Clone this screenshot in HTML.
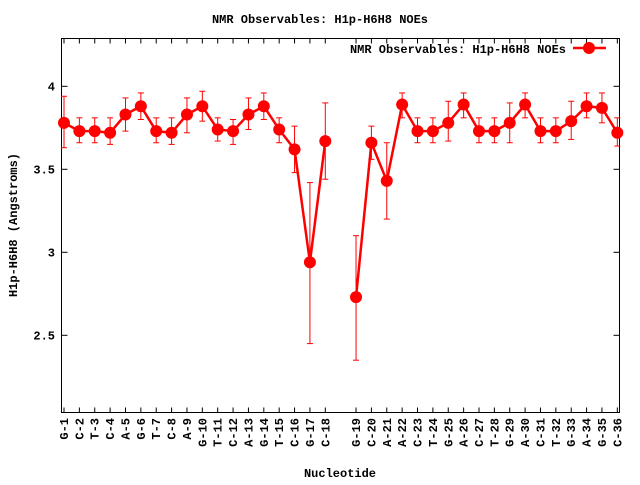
<!DOCTYPE html>
<html><head><meta charset="utf-8"><style>
html,body{margin:0;padding:0;background:#fff;}
svg text{font-family:"Liberation Mono",monospace;font-weight:bold;font-size:12px;fill:#000;}
</style></head><body>
<svg id="s" width="640" height="480" xmlns="http://www.w3.org/2000/svg"></svg>
<script>
var s=document.getElementById('s');
var labels=["G-1","C-2","T-3","C-4","A-5","G-6","T-7","C-8","A-9","G-10","T-11","C-12","A-13","G-14","T-15","C-16","G-17","C-18","G-19","C-20","A-21","A-22","C-23","T-24","G-25","A-26","C-27","T-28","G-29","A-30","C-31","T-32","G-33","A-34","G-35","C-36"];
var d=[[3.78,3.63,3.94],[3.73,3.66,3.81],[3.73,3.66,3.81],[3.72,3.65,3.81],[3.83,3.73,3.93],[3.88,3.80,3.96],[3.73,3.66,3.81],[3.72,3.65,3.81],[3.83,3.72,3.93],[3.88,3.79,3.97],[3.74,3.67,3.81],[3.73,3.65,3.80],[3.83,3.74,3.93],[3.88,3.80,3.96],[3.74,3.66,3.81],[3.62,3.48,3.76],[2.94,2.45,3.42],[3.67,3.44,3.90],[2.73,2.35,3.10],[3.66,3.56,3.76],[3.43,3.20,3.66],[3.89,3.81,3.96],[3.73,3.66,3.81],[3.73,3.66,3.81],[3.78,3.67,3.91],[3.89,3.81,3.96],[3.73,3.66,3.81],[3.73,3.66,3.81],[3.78,3.66,3.90],[3.89,3.81,3.96],[3.73,3.66,3.81],[3.73,3.66,3.81],[3.79,3.68,3.91],[3.88,3.81,3.96],[3.87,3.78,3.96],[3.72,3.64,3.81]];
function X(i){return 64+(i<18?i:i+1)*15.37;}
function Y(v){return 86.3+(4-v)*166;}
var h='';
var L=61.5,R=619.5,T=38.5,B=412.5;
h+='<rect x="'+L+'" y="'+T+'" width="'+(R-L)+'" height="'+(B-T)+'" fill="none" stroke="#000" stroke-width="1"/>';
[[4,"4"],[3.5,"3.5"],[3,"3"],[2.5,"2.5"]].forEach(function(t){var y=Y(t[0]);h+='<line x1="'+L+'" x2="'+(L+6)+'" y1="'+y+'" y2="'+y+'" stroke="#000"/><line x1="'+R+'" x2="'+(R-6)+'" y1="'+y+'" y2="'+y+'" stroke="#000"/><text x="55" y="'+(y+4)+'" text-anchor="end">'+t[1]+'</text>';});
for(var i=0;i<36;i++){var x=X(i);h+='<line x1="'+x+'" x2="'+x+'" y1="'+B+'" y2="'+(B-5)+'" stroke="#000"/><line x1="'+x+'" x2="'+x+'" y1="'+T+'" y2="'+(T+5)+'" stroke="#000"/><text transform="translate('+(x+4)+',418) rotate(-90)" text-anchor="end">'+labels[i]+'</text>';}
var p1='',p2='';
for(var i=0;i<36;i++){var pt=X(i)+','+Y(d[i][0])+' ';if(i<18)p1+=pt;else p2+=pt;}
h+='<polyline points="'+p1+'" fill="none" stroke="#f00" stroke-width="2.5"/><polyline points="'+p2+'" fill="none" stroke="#f00" stroke-width="2.5"/>';
for(var i=0;i<36;i++){var x=X(i),a=Y(d[i][1]),b=Y(d[i][2]);h+='<line x1="'+x+'" x2="'+x+'" y1="'+a+'" y2="'+b+'" stroke="#f00" stroke-width="1"/><line x1="'+(x-3)+'" x2="'+(x+3)+'" y1="'+a+'" y2="'+a+'" stroke="#f00"/><line x1="'+(x-3)+'" x2="'+(x+3)+'" y1="'+b+'" y2="'+b+'" stroke="#f00"/><circle cx="'+x+'" cy="'+Y(d[i][0])+'" r="6" fill="#f00"/>';}
h+='<text x="320" y="23" text-anchor="middle">NMR Observables: H1p-H6H8 NOEs</text>';
h+='<text x="566" y="53" text-anchor="end">NMR Observables: H1p-H6H8 NOEs</text><line x1="573" x2="606" y1="48" y2="48" stroke="#f00" stroke-width="2.5"/><circle cx="589" cy="48" r="6" fill="#f00"/>';
h+='<text x="340" y="477" text-anchor="middle">Nucleotide</text>';
h+='<text transform="translate(17,225) rotate(-90)" text-anchor="middle">H1p-H6H8 (Angstroms)</text>';
s.innerHTML=h;
</script>
</body></html>
